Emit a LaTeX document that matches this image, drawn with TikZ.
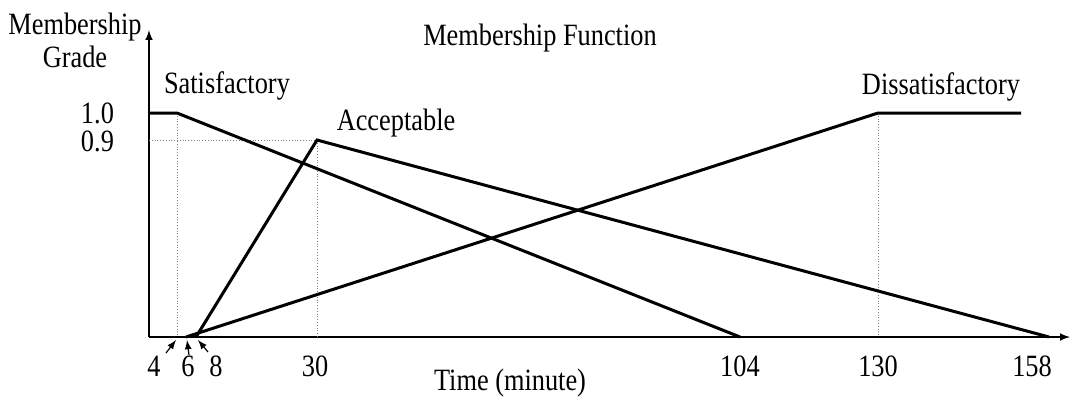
\documentclass[tikz,border=0pt]{standalone}
\usepackage{fontspec}
\setmainfont{Liberation Serif}[FakeStretch=0.85]
\usetikzlibrary{calc, positioning}

\begin{document}
\begin{tikzpicture}[x=0.5pt, y=-0.5pt, >=latex, font=\fontsize{15.5}{16.5}\selectfont,
    mf/.style={line width=1.5pt, line join=miter},
    guide/.style={densely dotted, gray, line width=0.4pt},
    axis/.style={line width=0.7pt, ->, >={latex[scale=1.6]}},
    pointer/.style={line width=0.6pt, ->, >={latex[scale=1.5]}}]
    \useasboundingbox (0,0) rectangle (1070,403);

    % axes
    \coordinate (origin) at (149,337);
    \coordinate (ytip) at (149,30);
    \coordinate (xtip) at (1070,337);
    \draw[axis] (origin) -- (ytip);
    \draw[axis] (origin) -- (xtip);

    % break points
    \coordinate (sat1) at (149,113);  \coordinate (sat2) at (177,113);  \coordinate (sat3) at (740,337);
    \coordinate (acc1) at (196,337);  \coordinate (acc2) at (317,140);  \coordinate (acc3) at (1049,337);
    \coordinate (dis1) at (186,337);  \coordinate (dis2) at (878,113);  \coordinate (dis3) at (1021,113);

    % guide lines
    \draw[guide] (sat2) -- (sat2 |- origin);
    \draw[guide] (origin |- acc2) -- (acc2) -- (acc2 |- origin);
    \draw[guide] (dis2) -- (dis2 |- origin);

    % membership functions
    \draw[mf] (sat1) -- (sat2) -- (sat3);
    \draw[mf] (acc1) -- (acc2) -- (acc3);
    \draw[mf] (dis1) -- (dis2) -- (dis3);

    % labels
    \node[align=center] (ylabel) at (75,40) {Membership\\Grade};
    \node (title) at (540,38) {Membership Function};
    \node (xlabel) at (510,383) {Time (minute)};
    \node (satlabel) at (227,86) {Satisfactory};
    \node (acclabel) at (396,123) {Acceptable};
    \node (dislabel) at (941,87) {Dissatisfactory};
    \node[anchor=east] (one) at (121,113) {1.0};
    \node[anchor=east] (ninety) at (121,141) {0.9};

    \foreach \t/\x in {4/154, 6/188, 8/216, 30/315, 104/740, 130/878, 158/1032} {
        \node (tick\t) at (\x,366) {\t};
    };

    % pointers to the crowded ticks
    \coordinate (p4) at (176,340);  \coordinate (p6) at (187,340);  \coordinate (p8) at (198,340);
    \draw[pointer] (166,353) -- (p4);
    \draw[pointer] (189,355) -- (p6);
    \draw[pointer] (208,352) -- (p8);
\end{tikzpicture}
\end{document}
